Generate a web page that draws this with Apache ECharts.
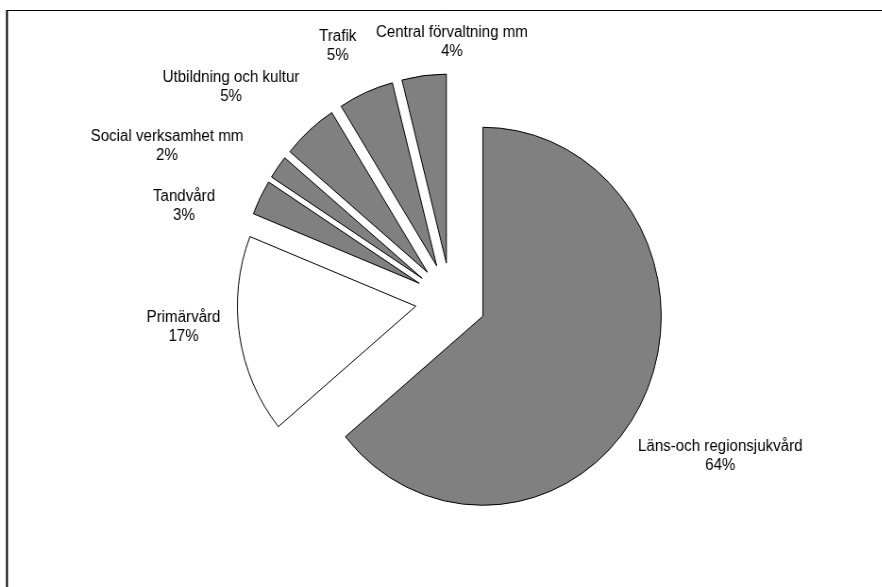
<!DOCTYPE html>
<html>
<head>
<meta charset="utf-8">
<script src="https://cdn.jsdelivr.net/npm/echarts@6/dist/echarts.min.js"></script>
<style>
  html, body { margin: 0; padding: 0; background: #fff; overflow: hidden; width: 882px; height: 587px; }
  #chart { width: 934px; height: 587px; transform: scaleX(0.944); transform-origin: 0 0; }
</style>
</head>
<body>
<div id="chart"></div>
<script>
// Data
const categories = ['Läns-och regionsjukvård', 'Primärvård', 'Tandvård', 'Social verksamhet mm', 'Utbildning och kultur', 'Trafik', 'Central förvaltning mm'];
const values = [64, 17, 3, 2, 5, 5, 4];
const sliceColors = ['#808080', '#ffffff', '#808080', '#808080', '#808080', '#808080', '#808080'];
// Label anchor centres (layout, pre-scale px)
const labelCenters = [[763, 456], [194.4, 327], [194.9, 206], [176.9, 146.4], [244.7, 86.9], [357.8, 46.4], [478.7, 41.9]];

const chart = echarts.init(document.getElementById('chart'), null, { renderer: 'canvas' });
const pieData = categories.map((name, i) => ({
  name: name,
  value: values[i],
  selected: true,
  itemStyle: { color: sliceColors[i] },
  select: { itemStyle: { color: sliceColors[i], borderColor: '#000', borderWidth: 1 } }
}));

const labelGraphics = categories.map((name, i) => ({
  type: 'text',
  x: labelCenters[i][0],
  y: labelCenters[i][1],
  silent: true,
  style: {
    text: name + '\n' + values[i] + '%',
    fontFamily: 'Liberation Sans, Arial, sans-serif',
    fontSize: 16,
    lineHeight: 19,
    fill: '#000',
    align: 'center',
    verticalAlign: 'middle',
    textAlign: 'center',
    textVerticalAlign: 'middle'
  }
}));

chart.setOption({
  animation: false,
  backgroundColor: '#ffffff',
  graphic: [
    { type: 'line', shape: { x1: 7.4, y1: 10.5, x2: 940, y2: 10.5 }, style: { stroke: '#000', lineWidth: 1 } },
    { type: 'line', shape: { x1: 7.4, y1: 10, x2: 7.4, y2: 600 }, style: { stroke: '#000', lineWidth: 2 } }
  ].concat(labelGraphics),
  series: [{
    type: 'pie',
    center: [477.5, 300.3],
    radius: 189,
    startAngle: 90,
    clockwise: true,
    selectedMode: 'multiple',
    selectedOffset: 37.5,
    avoidLabelOverlap: false,
    emphasis: { disabled: true },
    itemStyle: { borderColor: '#000', borderWidth: 1 },
    label: { show: false },
    labelLine: { show: false },
    data: pieData
  }]
});
</script>
</body>
</html>
